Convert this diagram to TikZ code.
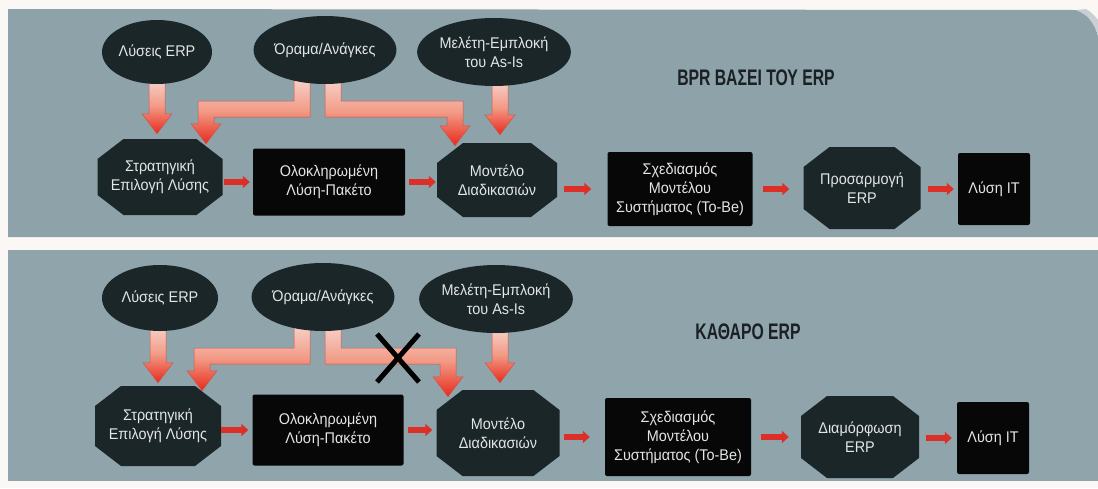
\documentclass[tikz,border=0pt]{standalone}
\usepackage{fontspec}
\setmainfont{Liberation Sans}
\newfontfamily\labelfont{Liberation Sans}[FakeStretch=0.93]
\newfontfamily\headfont{Liberation Sans}[FakeStretch=0.70]
\usetikzlibrary{shapes.geometric,calc,arrows.meta}

\definecolor{paper}{HTML}{FBF7F5}
\definecolor{panel}{HTML}{8EA2AA}
\definecolor{panelB}{HTML}{90A4AC}
\definecolor{fold}{HTML}{C8D0D3}
\definecolor{nodedark}{HTML}{1B2629}
\definecolor{boxdark}{HTML}{070707}
\definecolor{nodetext}{HTML}{E2E6E5}
\definecolor{headtext}{HTML}{1A2023}
\definecolor{flowred}{HTML}{DC2F27}
\definecolor{fatlight}{HTML}{F6D3CA}
\definecolor{fatmid}{HTML}{F29A86}
\definecolor{fatred}{HTML}{E8291A}
\definecolor{fatedge}{HTML}{C9584A}

\pgfdeclarelayer{back}
\pgfdeclarelayer{mid}
\pgfsetlayers{back,mid,main}

\tikzset{
  lbl/.style={font=\labelfont\fontsize{15.5}{19}\selectfont, text=nodetext,
    align=center, inner sep=0pt},
  oval/.style={lbl, ellipse, fill=nodedark},
  blackbox/.style={lbl, rectangle, fill=boxdark, rounded corners=2pt},
  octa/.style={lbl, rectangle, path picture={
    \fill[nodedark]
      ([xshift=26pt]path picture bounding box.north west)
      -- ([xshift=-26pt]path picture bounding box.north east)
      -- ([yshift=-20pt]path picture bounding box.north east)
      -- ([yshift=20pt]path picture bounding box.south east)
      -- ([xshift=-26pt]path picture bounding box.south east)
      -- ([xshift=26pt]path picture bounding box.south west)
      -- ([yshift=20pt]path picture bounding box.south west)
      -- ([yshift=-20pt]path picture bounding box.north west) -- cycle;}},
  heading/.style={font=\headfont\bfseries\fontsize{22.5}{25}\selectfont,
    text=headtext, inner sep=0pt},
  flow/.style={draw=flowred, line width=6.5pt,
    -{Triangle[length=7pt,width=12pt]}},
  fat/.style={draw=fatedge, line width=0.5pt, top color=fatlight,
    bottom color=fatred, middle color=fatmid},
  crossmark/.style={draw=black, line width=5pt}
}

% thick shaded arrow straight down from #1 to the tip #2
\newcommand{\fatdrop}[2]{%
  \path[fat] let \p1=(#1), \p2=(#2) in
    ({\x1-8pt},\y1) -- ({\x1+8pt},\y1) -- ({\x1+8pt},{\y2+20pt})
    -- ({\x1+15pt},{\y2+20pt}) -- (\x1,\y2) -- ({\x1-15pt},{\y2+20pt})
    -- ({\x1-8pt},{\y2+20pt}) -- cycle;}

% thick shaded elbow arrow: down from #1, across, down to the tip #2;
% #3 is the drop to the horizontal run, #4 = 1 (turn right) or -1 (turn left)
\newcommand{\fatelbow}[4]{%
  \path[fat] let \p1=(#1), \p2=(#2), \n1={\y1-#3}, \n2={#4*8pt} in
    ({\x1-\n2},\y1) -- ({\x1-\n2},{\n1-8pt}) -- ({\x2-\n2},{\n1-8pt})
    -- ({\x2-\n2},{\y2+20pt}) -- ({\x2-#4*15pt},{\y2+20pt}) -- (\x2,\y2)
    -- ({\x2+#4*15pt},{\y2+20pt}) -- ({\x2+\n2},{\y2+20pt})
    -- ({\x2+\n2},{\n1+8pt}) -- ({\x1+\n2},{\n1+8pt}) -- ({\x1+\n2},\y1) -- cycle;}

\begin{document}
\begin{tikzpicture}[x=1pt,y=-1pt]
  \useasboundingbox (0,0) rectangle (1098,488);

  % paper and the two panels
  \begin{pgfonlayer}{back}
    \fill[paper] (0,0) rectangle (1098,488);
    \fill[panel] (8,9) -- (1076,10) .. controls (1088,14) and (1095,24) .. (1098,36)
      -- (1098,237) -- (8,237) -- cycle;
    \fill[fold] (1076,10) .. controls (1088,14) and (1095,24) .. (1098,36)
      -- (1098,20) .. controls (1094,15) and (1090,11) .. (1086,9) -- cycle;
    \fill[panelB] (8,250) rectangle (1098,481);
  \end{pgfonlayer}

  % ---------- upper chart ----------
  \node[oval, minimum width=110pt, minimum height=64pt] (lysA) at (157,52) {Λύσεις ERP};
  \node[oval, minimum width=130pt, minimum height=68pt] (oraA) at (325,50) {Όραμα/Ανάγκες};
  \node[oval, minimum width=124pt, minimum height=68pt] (melA) at (494,52) {Μελέτη-Εμπλοκή\\του As-Is};
  \node[heading] (titleA) at (756,78) {BPR ΒΑΣΕΙ ΤΟΥ ERP};

  \node[octa, minimum width=125pt, minimum height=76pt] (strA) at (160,177) {Στρατηγική\\Επιλογή Λύσης};
  \node[blackbox, minimum width=152pt, minimum height=67pt] (olsA) at (329,182) {Ολοκληρωμένη\\Λύση-Πακέτο};
  \node[octa, minimum width=120pt, minimum height=74pt] (modA) at (497,180) {Μοντέλο\\Διαδικασιών};
  \node[blackbox, minimum width=145pt, minimum height=74pt] (sxA) at (680,189) {Σχεδιασμός\\Μοντέλου\\Συστήματος (To-Be)};
  \node[octa, minimum width=117pt, minimum height=82pt] (prA) at (862,188) {Προσαρμογή\\ERP};
  \node[blackbox, minimum width=72pt, minimum height=72pt] (itA) at (994,189) {Λύση IT};

  \draw[flow, shorten <=1pt, shorten >=3pt] (strA.east |- olsA.west) -- (olsA.west);
  \draw[flow, shorten <=4pt, shorten >=1pt] (olsA.east) -- (olsA.east -| modA.west);
  \draw[flow, shorten <=7pt, shorten >=16pt] (modA.east |- sxA.west) -- (sxA.west);
  \draw[flow, shorten <=10pt, shorten >=14pt] (sxA.east) -- (sxA.east -| prA.west);
  \draw[flow, shorten <=7pt, shorten >=4pt] (prA.east |- itA.west) -- (itA.west);

  \coordinate (lysAout) at ($(lysA.south)+(0,-6)$);
  \coordinate (lysAtip) at ($(lysAout |- strA.north)+(0,-5)$);
  \coordinate (oraAleft) at ($(oraA.south)+(-23,-6)$);
  \coordinate (strAtip) at ($(strA.north)+(46,5)$);
  \coordinate (oraAright) at ($(oraA.south)+(8,-6)$);
  \coordinate (modAtip) at ($(modA.north)+(-42,3)$);
  \coordinate (melAout) at ($(melA.south)+(6,-6)$);
  \coordinate (melAtip) at ($(melAout |- modA.north)+(0,-8)$);

  \begin{pgfonlayer}{mid}
    \fatdrop{lysAout}{lysAtip}
    \fatelbow{oraAleft}{strAtip}{31pt}{-1}
    \fatelbow{oraAright}{modAtip}{31pt}{1}
    \fatdrop{melAout}{melAtip}
  \end{pgfonlayer}

  % ---------- lower chart ----------
  \node[oval, minimum width=116pt, minimum height=66pt] (lysB) at (160,298) {Λύσεις ERP};
  \node[oval, minimum width=128pt, minimum height=68pt] (oraB) at (323,297) {Όραμα/Ανάγκες};
  \node[oval, minimum width=128pt, minimum height=68pt] (melB) at (496,299) {Μελέτη-Εμπλοκή\\του As-Is};
  \node[heading] (titleB) at (748,332) {ΚΑΘΑΡΟ ERP};

  \node[octa, minimum width=126pt, minimum height=80pt] (strB) at (158,426) {Στρατηγική\\Επιλογή Λύσης};
  \node[blackbox, minimum width=151pt, minimum height=71pt] (olsB) at (328,430) {Ολοκληρωμένη\\Λύση-Πακέτο};
  \node[octa, minimum width=123pt, minimum height=86pt] (modB) at (498,433) {Μοντέλο\\Διαδικασιών};
  \node[blackbox, minimum width=146pt, minimum height=78pt] (sxB) at (678,437) {Σχεδιασμός\\Μοντέλου\\Συστήματος (To-Be)};
  \node[octa, minimum width=118pt, minimum height=82pt] (diB) at (860,437) {Διαμόρφωση\\ERP};
  \node[blackbox, minimum width=72pt, minimum height=72pt] (itB) at (993,438) {Λύση IT};

  \draw[flow, shorten <=0pt, shorten >=4pt] (strB.east |- olsB.west) -- (olsB.west);
  \draw[flow, shorten <=4pt, shorten >=4pt] (olsB.east) -- (olsB.east -| modB.west);
  \draw[flow, shorten <=4pt, shorten >=15pt] (modB.east |- sxB.west) -- (sxB.west);
  \draw[flow, shorten <=10pt, shorten >=12pt] (sxB.east) -- (sxB.east -| diB.west);
  \draw[flow, shorten <=7pt, shorten >=5pt] (diB.east |- itB.west) -- (itB.west);

  \coordinate (lysBout) at ($(lysB.south)+(-2,-6)$);
  \coordinate (lysBtip) at ($(lysBout |- strB.north)+(0,-3)$);
  \coordinate (oraBleft) at ($(oraB.south)+(-21,-6)$);
  \coordinate (strBtip) at ($(strB.north)+(44,5)$);
  \coordinate (oraBright) at ($(oraB.south)+(10,-6)$);
  \coordinate (modBtip) at ($(modB.north)+(-50,7)$);
  \coordinate (melBout) at ($(melB.south)+(4,-6)$);
  \coordinate (melBtip) at ($(melBout |- modB.north)+(0,-7)$);

  \begin{pgfonlayer}{mid}
    \fatdrop{lysBout}{lysBtip}
    \fatelbow{oraBleft}{strBtip}{31pt}{-1}
    \fatelbow{oraBright}{modBtip}{31pt}{1}
    \fatdrop{melBout}{melBtip}
  \end{pgfonlayer}

  % the struck-out link
  \coordinate (cut) at (398,358);
  \draw[crossmark] ($(cut)+(-21,-24)$) -- ($(cut)+(21,24)$);
  \draw[crossmark] ($(cut)+(21,-24)$) -- ($(cut)+(-21,24)$);
\end{tikzpicture}
\end{document}
